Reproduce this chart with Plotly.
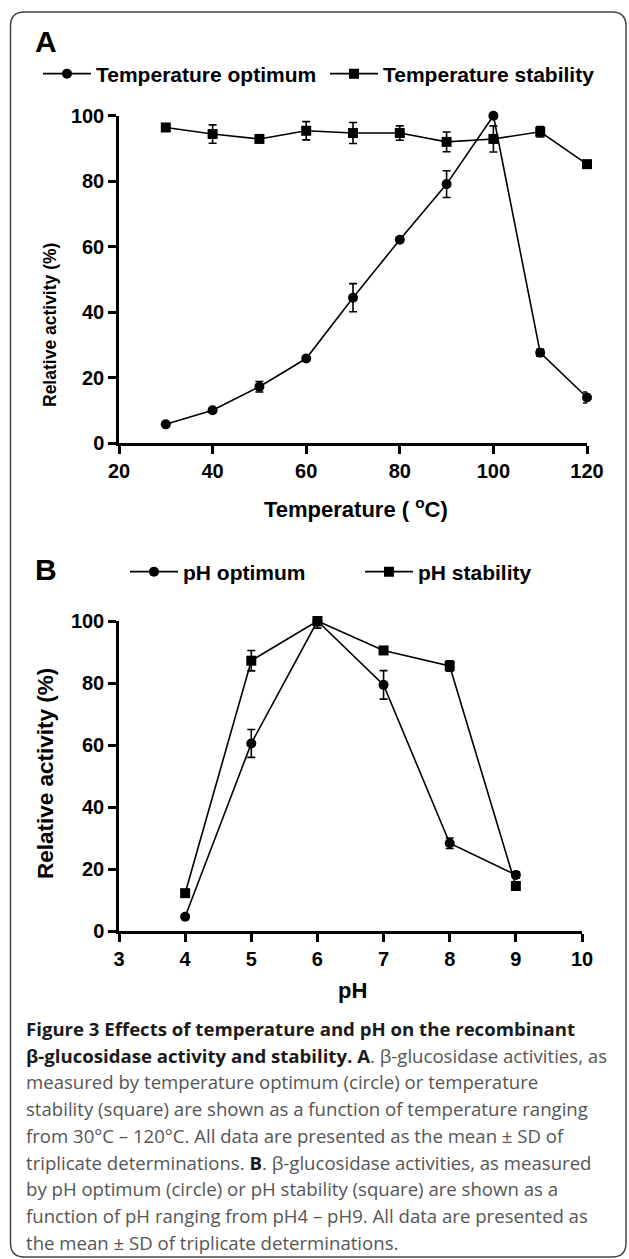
import plotly.graph_objects as go

# ---------------- data ----------------
temp_x = [30, 40, 50, 60, 70, 80, 90, 100, 110, 120]
temp_opt = [5.7, 10.0, 17.2, 25.8, 44.4, 62.1, 79.1, 100.0, 27.6, 13.9]
temp_opt_sd = [0.6, 0.6, 1.6, 0.6, 4.3, 0.5, 4.1, 0.6, 1.1, 1.7]
temp_stab = [96.4, 94.4, 92.9, 95.4, 94.7, 94.7, 92.0, 92.9, 95.1, 85.2]
temp_stab_sd = [0.5, 2.8, 1.0, 2.8, 3.2, 2.2, 3.0, 4.0, 1.6, 1.0]

ph_x = [4, 5, 6, 7, 8, 9]
ph_opt = [4.6, 60.5, 100.0, 79.4, 28.3, 18.1]
ph_opt_sd = [0.5, 4.5, 2.3, 4.6, 1.7, 1.0]
ph_stab = [12.2, 87.2, 100.0, 90.5, 85.5, 14.5]
ph_stab_sd = [0.5, 3.3, 1.5, 1.0, 1.7, 0.5]

temp_ticks = [20, 40, 60, 80, 100, 120]
ph_ticks = [3, 4, 5, 6, 7, 8, 9, 10]
act_ticks = [0, 20, 40, 60, 80, 100]

caption_lines = [
    "<b>Figure 3 Effects of temperature and pH on the recombinant</b>",
    "<b>β-glucosidase activity and stability. A</b>. β-glucosidase activities, as",
    "measured by temperature optimum (circle) or temperature",
    "stability (square) are shown as a function of temperature ranging",
    "from 30°C – 120°C. All data are presented as the mean ± SD of",
    "triplicate determinations. <b>B</b>. β-glucosidase activities, as measured",
    "by pH optimum (circle) or pH stability (square) are shown as a",
    "function of pH ranging from pH4 – pH9. All data are presented as",
    "the mean ± SD of triplicate determinations.",
]

W, H = 629, 1259
def fx(px):
    return px / W
def fy(py):
    return 1 - py / H

BOLD = "Liberation Sans, Arial, sans-serif"

fig = go.Figure()

def add_series(x, y, sd, name, symbol, xa, ya, leg):
    fig.add_trace(go.Scatter(
        x=x, y=y, name=name, mode="lines+markers",
        xaxis=xa, yaxis=ya, legend=leg, cliponaxis=False,
        line=dict(color="black", width=1.6),
        marker=dict(symbol=symbol, size=10, color="black"),
        error_y=dict(type="data", array=sd, visible=True, color="black",
                     thickness=1.6, width=4),
    ))

add_series(temp_x, temp_opt, temp_opt_sd, "Temperature optimum", "circle", "x", "y", "legend")
add_series(temp_x, temp_stab, temp_stab_sd, "Temperature stability", "square", "x", "y", "legend")
add_series(ph_x, ph_opt, ph_opt_sd, "pH optimum", "circle", "x2", "y2", "legend2")
add_series(ph_x, ph_stab, ph_stab_sd, "pH stability", "square", "x2", "y2", "legend2")

axis_common = dict(
    showline=True, linecolor="black", linewidth=2.5,
    ticks="outside", ticklen=8, tickwidth=2.5, tickcolor="black",
    showgrid=False, zeroline=False,
    tickfont=dict(family=BOLD, size=20, color="black", weight="bold"),
)

legend_font = dict(family=BOLD, size=21, color="black", weight="bold")

fig.update_layout(
    width=W, height=H,
    margin=dict(l=0, r=0, t=0, b=0, autoexpand=False),
    paper_bgcolor="white", plot_bgcolor="white",
    showlegend=True,
    xaxis=dict(domain=[fx(119), fx(587)], range=[20, 120], tickvals=temp_ticks,
               anchor="y", **axis_common),
    yaxis=dict(domain=[fy(443), fy(115.7)], range=[0, 100], tickvals=act_ticks,
               anchor="x", **axis_common),
    xaxis2=dict(domain=[fx(119), fx(582)], range=[3, 10], tickvals=ph_ticks,
                anchor="y2", **axis_common),
    yaxis2=dict(domain=[fy(931), fy(621)], range=[0, 100], tickvals=act_ticks,
                anchor="x2", **axis_common),
    legend=dict(orientation="h", x=fx(38), y=fy(74), xanchor="left", yanchor="middle",
                font=legend_font, itemwidth=48,
                entrywidth=224, bgcolor="rgba(0,0,0,0)", tracegroupgap=0),
    legend2=dict(orientation="h", x=fx(125), y=fy(572), xanchor="left", yanchor="middle",
                 font=legend_font, itemwidth=48,
                 entrywidth=172, bgcolor="rgba(0,0,0,0)", tracegroupgap=0),
)

# axis titles and panel letters
anns = [
    dict(text="A", x=fx(46), y=fy(42), font=dict(family=BOLD, size=30, weight="bold")),
    dict(text="B", x=fx(46), y=fy(569), font=dict(family=BOLD, size=30, weight="bold")),
    dict(text="Relative activity (%)", x=fx(50), y=fy(325), textangle=-90,
         font=dict(family=BOLD, size=17.5, weight="bold")),
    dict(text="Relative activity (%)", x=fx(45), y=fy(774), textangle=-90,
         font=dict(family=BOLD, size=22.5, weight="bold")),
    dict(text="Temperature ( <sup>o</sup>C)", x=fx(356), y=fy(508),
         font=dict(family=BOLD, size=22, weight="bold")),
    dict(text="pH", x=fx(352), y=fy(990), font=dict(family=BOLD, size=22, weight="bold")),
]
for a in anns:
    a.update(xref="paper", yref="paper", showarrow=False, xanchor="center", yanchor="middle")
    a["font"]["color"] = "black"
    fig.add_annotation(**a)

# caption
for i, line in enumerate(caption_lines):
    line = line.replace("<b>", '<b><span style="color:#1a1a1a">').replace("</b>", "</span></b>")
    fig.add_annotation(
        text=line, xref="paper", yref="paper", x=fx(24), y=fy(1028.5 + 26.7 * i),
        xanchor="left", yanchor="middle", showarrow=False, align="left",
        font=dict(family="Open Sans, sans-serif", size=18.6, color="#555555"),
    )

# rounded border frame
L, T, R, B, r = 10.5, 12, 626, 1257, 14
def P(px, py):
    return f"{fx(px):.5f},{fy(py):.5f}"
path = (f"M {P(L + r, T)} L {P(R - r, T)} Q {P(R, T)} {P(R, T + r)} "
        f"L {P(R, B - r)} Q {P(R, B)} {P(R - r, B)} "
        f"L {P(L + r, B)} Q {P(L, B)} {P(L, B - r)} "
        f"L {P(L, T + r)} Q {P(L, T)} {P(L + r, T)} Z")
fig.add_shape(type="path", path=path, xref="paper", yref="paper",
              line=dict(color="#444444", width=1.5), fillcolor="rgba(0,0,0,0)")

fig.write_html("out.html", config={"displayModeBar": False},
               post_script="document.body.style.margin='0';document.body.style.overflow='hidden';")
